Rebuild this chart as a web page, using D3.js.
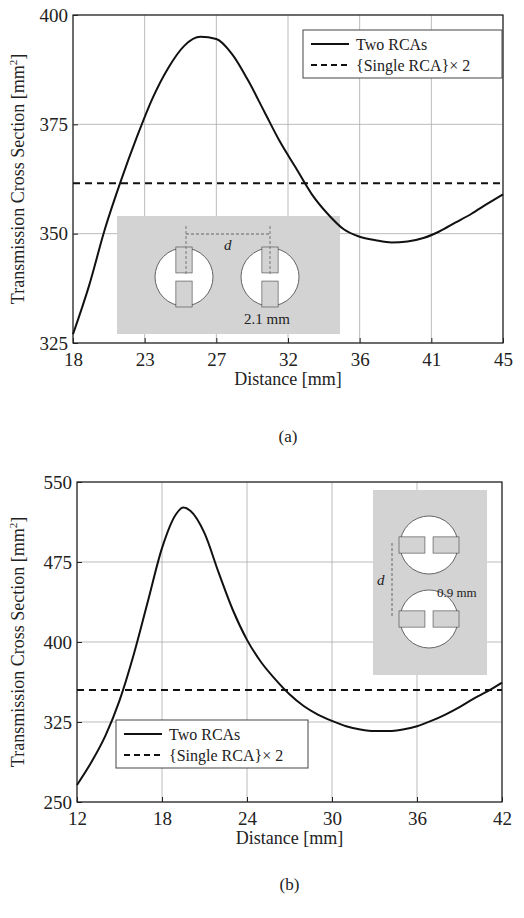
<!DOCTYPE html>
<html><head><meta charset="utf-8">
<script src="https://cdn.jsdelivr.net/npm/d3@7"></script>
<style>body{margin:0;background:#fff}text{font-family:"Liberation Serif",serif;fill:#222}</style>
</head><body><svg width="524" height="918"></svg>
<script>
// panel (a)
var aX = [18,19,20,21,22,23,24,25,26,27,28,29,30,31,32,33,34,35,36,37,38,39,40,41,42,43,44,45];
var aY = [327,338,351,362,372,381,388,393,395,394.5,391,385,378,371,365,359,354.5,351,349.3,348.5,348,348.2,349,350.5,352.5,354.5,356.8,359];
var aSingle = 361.5;
var aXTicks = [18,22.5,27,31.5,36,40.5,45];
var aYTicks = [325,350,375,400];
// panel (b)
var bX = [12,13,14,15,16,17,18,19,19.5,20,21,22,23,24,25,26,27,28,29,30,31,32,33,34,35,36,37,38,39,40,41,42];
var bY = [266,287,312,345,388,438,488,520,526,523,502,465,430,402,381,365,351,340,332,326,321,318,316.5,316.5,318,321,326,332,339,347,354,362];
var bSingle = 355;
var bXTicks = [12,18,24,30,36,42];
var bYTicks = [250,325,400,475,550];

var svg = d3.select('svg');

function panel(o) {
    var x = d3.scaleLinear().domain(o.xd).range([o.l, o.r]);
    var y = d3.scaleLinear().domain(o.yd).range([o.b, o.t]);
    var g = svg.append('g');
    g.selectAll('.vg').data(o.xt).enter().append('line')
        .attr('x1', x).attr('x2', x).attr('y1', o.t).attr('y2', o.b)
        .style('stroke', '#aaa').style('stroke-width', 0.8);
    g.selectAll('.hg').data(o.yt).enter().append('line')
        .attr('x1', o.l).attr('x2', o.r).attr('y1', y).attr('y2', y)
        .style('stroke', '#aaa').style('stroke-width', 0.8);
    g.append('rect').attr('x', o.l).attr('y', o.t).attr('width', o.r - o.l).attr('height', o.b - o.t)
        .style('fill', 'none').style('stroke', '#222').style('stroke-width', 1.2);
    g.append('g').attr('transform', 'translate(0,' + o.b + ')')
        .call(d3.axisBottom(x).tickValues(o.xt).tickSize(-5).tickPadding(10))
        .call(s => s.select('.domain').remove())
        .call(s => s.selectAll('line').style('stroke', '#222'))
        .selectAll('text').style('font-size', '19px').style('font-family', 'Liberation Serif').style('fill', '#222');
    g.append('g').attr('transform', 'translate(' + o.l + ',0)')
        .call(d3.axisLeft(y).tickValues(o.yt).tickSize(-5).tickPadding(5))
        .call(s => s.select('.domain').remove())
        .call(s => s.selectAll('line').style('stroke', '#222'))
        .selectAll('text').style('font-size', '19px').style('font-family', 'Liberation Serif').style('fill', '#222');
    g.append('text').attr('x', (o.l + o.r) / 2).attr('y', o.b + 42).attr('text-anchor', 'middle')
        .style('font-size', '18px').text('Distance [mm]');
    var yl = g.append('text').attr('transform', 'translate(24,' + (o.t + o.b) / 2 + ') rotate(-90)')
        .attr('text-anchor', 'middle').style('font-size', '18px');
    yl.append('tspan').text('Transmission Cross Section [mm');
    yl.append('tspan').attr('dy', -7).style('font-size', '11px').text('2');
    yl.append('tspan').attr('dy', 7).text(']');
    g.append('text').attr('x', (o.l + o.r) / 2).attr('y', o.cy).attr('text-anchor', 'middle')
        .style('font-size', '17px').text(o.cap);
    o.inset(g, x, y);
    g.append('line').attr('x1', o.l).attr('x2', o.r).attr('y1', y(o.single)).attr('y2', y(o.single))
        .style('stroke', '#111').style('stroke-width', 2).style('stroke-dasharray', '7,5');
    g.append('path').datum(d3.zip(o.xs, o.ys))
        .attr('d', d3.line().x(d => x(d[0])).y(d => y(d[1])).curve(d3.curveMonotoneX))
        .style('fill', 'none').style('stroke', '#111').style('stroke-width', 2);
    var lg = g.append('g').attr('transform', 'translate(' + o.lg[0] + ',' + o.lg[1] + ')');
    lg.append('rect').attr('width', o.lg[2]).attr('height', 48).style('fill', '#fff').style('stroke', '#444');
    lg.append('line').attr('x1', 8).attr('x2', 46).attr('y1', 14).attr('y2', 14).style('stroke', '#111').style('stroke-width', 2);
    lg.append('line').attr('x1', 8).attr('x2', 46).attr('y1', 35).attr('y2', 35).style('stroke', '#111').style('stroke-width', 2).style('stroke-dasharray', '6,4');
    lg.append('text').attr('x', 53).attr('y', 20).style('font-size', '16px').text('Two RCAs');
    lg.append('text').attr('x', 53).attr('y', 41).style('font-size', '16px').text('{Single RCA}\u00d7 2');
}

function hShape(g, cx, cy, r, rot) {
    // white disc with two grey slots leaving a thin bridge in the middle
    var s = g.append('g').attr('transform', 'translate(' + cx + ',' + cy + ') rotate(' + rot + ')');
    s.append('circle').attr('r', r).style('fill', '#fff').style('stroke', '#444').style('stroke-width', 0.8);
    var w = r * 0.28, gap = r * 0.14;
    s.append('rect').attr('x', -w).attr('y', -r - 1).attr('width', 2 * w).attr('height', r + 1 - gap).style('fill', '#d3d3d3').style('stroke', '#444').style('stroke-width', 0.6);
    s.append('rect').attr('x', -w).attr('y', gap).attr('width', 2 * w).attr('height', r + 1 - gap).style('fill', '#d3d3d3').style('stroke', '#444').style('stroke-width', 0.6);
}

panel({l: 73, r: 503, t: 15, b: 343, xd: [18, 45], yd: [325, 400], xt: aXTicks, yt: aYTicks,
    xs: aX, ys: aY, single: aSingle, cap: '(a)', cy: 442, lg: [303, 30, 199],
    inset: function (g) {
        g.append('rect').attr('x', 117).attr('y', 216).attr('width', 223).attr('height', 118).style('fill', '#d3d3d3');
        hShape(g, 184, 277, 29, 0);
        hShape(g, 270, 277, 29, 0);
        g.append('line').attr('x1', 186).attr('x2', 270).attr('y1', 234).attr('y2', 234).style('stroke', '#666').style('stroke-dasharray', '3,2');
        g.append('line').attr('x1', 186).attr('x2', 186).attr('y1', 226).attr('y2', 275).style('stroke', '#777').style('stroke-dasharray', '3,2');
        g.append('line').attr('x1', 270).attr('x2', 270).attr('y1', 226).attr('y2', 275).style('stroke', '#777').style('stroke-dasharray', '3,2');
        g.append('text').attr('x', 224).attr('y', 250).style('font-size', '15px').style('font-style', 'italic').text('d');
        g.append('text').attr('x', 244).attr('y', 324).style('font-size', '15px').text('2.1 mm');
    }});

panel({l: 77, r: 502, t: 482, b: 802, xd: [12, 42], yd: [250, 550], xt: bXTicks, yt: bYTicks,
    xs: bX, ys: bY, single: bSingle, cap: '(b)', cy: 890, lg: [116, 720, 192],
    inset: function (g) {
        g.append('rect').attr('x', 373).attr('y', 490).attr('width', 114).attr('height', 185).style('fill', '#d3d3d3');
        hShape(g, 429, 545, 29, 90);
        hShape(g, 429, 619, 29, 90);
        g.append('line').attr('x1', 392).attr('x2', 392).attr('y1', 543).attr('y2', 617).style('stroke', '#666').style('stroke-dasharray', '3,2');
        g.append('text').attr('x', 377).attr('y', 585).style('font-size', '15px').style('font-style', 'italic').text('d');
        g.append('text').attr('x', 437).attr('y', 597).style('font-size', '13px').text('0.9 mm');
    }});
</script>
</body></html>
